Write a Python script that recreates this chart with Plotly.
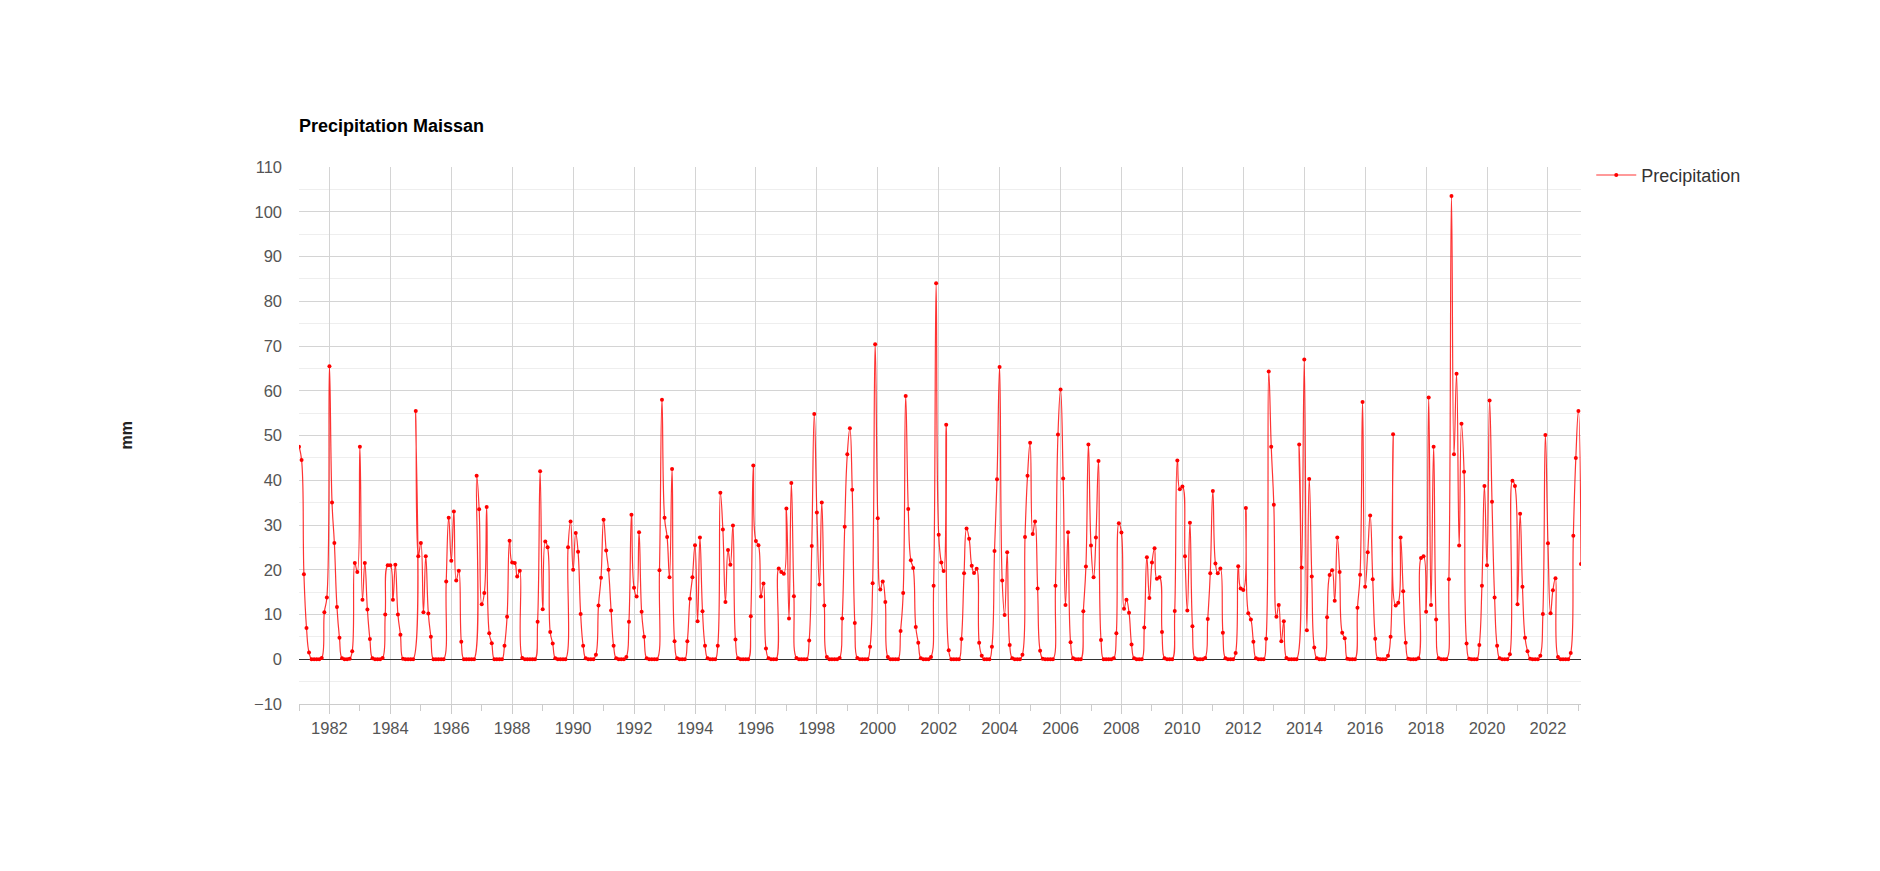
import pandas as pd
import plotly.graph_objects as go

# Monthly precipitation (mm), Jan..Dec for each year
y1981 = [47.5, 44.5, 19, 7, 1.5, 0, 0, 0, 0, 0.3, 10.5, 13.8]
y1982 = [65.5, 35, 26, 11.7, 4.8, 0.2, 0, 0, 0.1, 1.8, 21.5, 19.5]
y1983 = [47.5, 13.3, 21.5, 11.1, 4.5, 0.2, 0, 0, 0, 0.3, 10, 21]
y1984 = [21, 13.3, 21.1, 10, 5.5, 0.1, 0, 0, 0, 0, 55.5, 23]
y1985 = [26, 10.5, 23, 10.2, 5, 0, 0, 0, 0, 0, 17.4, 31.6]
y1986 = [22, 33, 17.6, 19.8, 3.9, 0, 0, 0, 0, 0, 41, 33.5]
y1987 = [12.3, 14.8, 34, 5.8, 3.6, 0, 0, 0, 0, 3, 9.5, 26.5]
y1988 = [21.6, 21.5, 18.5, 19.8, 0.3, 0, 0, 0, 0, 0, 8.4, 42]
y1989 = [11.2, 26.3, 25, 6.1, 3.5, 0.2, 0, 0, 0, 0, 25, 30.8]
y1990 = [20, 28.2, 24, 10.1, 3, 0.2, 0, 0, 0, 1, 12, 18.2]
y1991 = [31.2, 24.3, 20, 10.9, 3, 0.2, 0, 0, 0, 0.5, 8.4, 32.3]
y1992 = [16, 14, 28.4, 10.6, 5, 0.2, 0, 0, 0, 0, 19.9, 58]
y1993 = [31.6, 27.3, 18.3, 42.5, 4, 0.2, 0, 0, 0, 4, 13.5, 18.3]
y1994 = [25.5, 8.5, 27.2, 10.7, 3, 0.2, 0, 0, 0, 3, 37.2, 29]
y1995 = [12.8, 24.4, 21.1, 29.9, 4.4, 0.2, 0, 0, 0, 0, 9.6, 43.3]
y1996 = [26.4, 25.5, 14, 16.9, 2.4, 0.2, 0, 0, 0, 20.3, 19.5, 19.1]
y1997 = [33.7, 9.1, 39.4, 14.1, 0.3, 0, 0, 0, 0, 4.2, 25.3, 54.8]
y1998 = [32.8, 16.7, 35, 12, 0.5, 0, 0, 0, 0, 0.3, 9.1, 29.6]
y1999 = [45.8, 51.6, 37.9, 8.1, 0.3, 0, 0, 0, 0, 2.8, 17, 70.4]
y2000 = [31.5, 15.6, 17.4, 12.8, 0.5, 0, 0, 0, 0, 6.3, 14.8, 58.8]
y2001 = [33.6, 22.1, 20.4, 7.2, 3.7, 0.2, 0, 0, 0, 0.5, 16.4, 84]
y2002 = [27.8, 21.6, 19.7, 52.4, 2, 0, 0, 0, 0, 4.5, 19.2, 29.2]
y2003 = [26.9, 20.9, 19.3, 20.2, 3.7, 0.8, 0, 0, 0, 2.8, 24.2, 40.2]
y2004 = [65.3, 17.6, 9.9, 23.9, 3.2, 0.2, 0, 0, 0, 1, 27.3, 41]
y2005 = [48.4, 28, 30.8, 15.8, 1.9, 0.1, 0, 0, 0, 0, 16.4, 50.2]
y2006 = [60.3, 40.4, 12.1, 28.4, 3.8, 0.2, 0, 0, 0, 10.7, 20.7, 48]
y2007 = [25.4, 18.3, 27.2, 44.3, 4.3, 0, 0, 0, 0, 0.2, 5.8, 30.4]
y2008 = [28.3, 11.3, 13.3, 10.4, 3.3, 0.2, 0, 0, 0, 7.1, 22.8, 13.7]
y2009 = [21.6, 24.8, 18, 18.3, 6.1, 0.2, 0, 0, 0, 10.8, 44.4, 38]
y2010 = [38.6, 23, 10.9, 30.5, 7.4, 0.2, 0, 0, 0, 0.3, 9, 19.2]
y2011 = [37.6, 21.4, 19.2, 20.3, 5.9, 0.2, 0, 0, 0, 1.4, 20.8, 15.8]
y2012 = [15.5, 33.8, 10.3, 8.9, 3.9, 0.2, 0, 0, 0, 4.6, 64.3, 47.5]
y2013 = [34.5, 9.5, 12.1, 4, 8.5, 0.3, 0, 0, 0, 0, 48, 20.5]
y2014 = [67, 6.5, 40.3, 18.5, 2.6, 0.2, 0, 0, 0, 9.4, 18.8, 19.9]
y2015 = [13.1, 27.2, 19.5, 5.9, 4.7, 0.1, 0, 0, 0, 11.5, 18.9, 57.5]
y2016 = [16.2, 23.9, 32.1, 17.9, 4.6, 0.1, 0, 0, 0, 0.8, 5, 50.3]
y2017 = [12, 12.6, 27.2, 15.2, 3.7, 0.1, 0, 0, 0, 0.2, 22.6, 23]
y2018 = [10.6, 58.5, 12.1, 47.5, 8.9, 0.2, 0, 0, 0, 17.9, 103.5, 45.8]
y2019 = [63.8, 25.4, 52.6, 41.9, 3.5, 0.1, 0, 0, 0, 3.2, 16.4, 38.7]
y2020 = [21, 57.8, 35.2, 13.8, 3, 0.2, 0, 0, 0, 1.1, 39.9, 38.7]
y2021 = [12.3, 32.5, 16.2, 4.8, 1.8, 0.1, 0, 0, 0, 0.8, 10.1, 50.1]
y2022 = [25.9, 10.3, 15.4, 18.1, 0.5, 0, 0, 0, 0, 1.4, 27.6, 45]
y2023 = [55.5, 21.3]

years = [y1981, y1982, y1983, y1984, y1985, y1986, y1987, y1988, y1989, y1990,
         y1991, y1992, y1993, y1994, y1995, y1996, y1997, y1998, y1999, y2000,
         y2001, y2002, y2003, y2004, y2005, y2006, y2007, y2008, y2009, y2010,
         y2011, y2012, y2013, y2014, y2015, y2016, y2017, y2018, y2019, y2020,
         y2021, y2022, y2023]
values = [v for yr in years for v in yr]
dates = pd.date_range(start="1981-01-01", periods=len(values), freq="MS")

FONT = "Liberation Sans, Arial, Helvetica, sans-serif"

fig = go.Figure()
fig.add_trace(go.Scatter(
    x=dates, y=values, name="Precipitation", mode="lines+markers",
    line=dict(color="rgba(255,0,0,0.8)", width=1.2, shape="spline", smoothing=1.3),
    marker=dict(color="red", size=4),
))

W, H = 1880, 871
L, R, T, B = 299, 299, 167, 167
fig.update_layout(
    width=W, height=H,
    margin=dict(l=L, r=R, t=T, b=B),
    paper_bgcolor="white", plot_bgcolor="white",
    font=dict(family=FONT, size=16, color="#555555"),
    title=dict(text="<b>Precipitation Maissan</b>", x=0, xref="paper", xanchor="left",
               y=1 - 126 / H, yref="container", yanchor="middle",
               font=dict(family=FONT, size=18, color="#000000")),
    showlegend=True,
    legend=dict(x=1.008, y=1.019, xanchor="left", yanchor="top",
                itemwidth=40,
                font=dict(family=FONT, size=18, color="#333333"),
                bgcolor="rgba(0,0,0,0)"),
    xaxis=dict(
        type="date", range=["1981-01-01", "2023-02-01"],
        tick0="1982-01-01", dtick="M24", tickformat="%Y",
        showgrid=True, gridcolor="#d4d4d4", gridwidth=1,
        ticks="outside", ticklen=9, tickcolor="#cccccc",
        showline=True, linecolor="#cccccc", linewidth=1,
        minor=dict(dtick="M12", tick0="1981-01-01", ticks="outside", ticklen=6,
                   tickcolor="#cccccc", showgrid=False),
        tickfont=dict(size=16.5, color="#555555"),
        zeroline=False,
    ),
    yaxis=dict(
        range=[-10, 110], tick0=0, dtick=10,
        showgrid=True, gridcolor="#d4d4d4", gridwidth=1,
        minor=dict(dtick=5, showgrid=True, gridcolor="#eeeeee"),
        zeroline=True, zerolinecolor="#333333", zerolinewidth=1,
        ticks="", ticklabelstandoff=16,
        tickfont=dict(size=16.5, color="#555555"),
        showline=False,
    ),
    annotations=[dict(text="<b>mm</b>", xref="paper", yref="paper",
                      x=(126 - L) / (W - L - R), y=0.5, xanchor="center", yanchor="middle",
                      textangle=-90, showarrow=False,
                      font=dict(family=FONT, size=16, color="#222222"))],
)

fig.write_html("out.html", include_plotlyjs=True, config={"displayModeBar": False},
               post_script="document.body.style.margin='0';document.body.style.overflow='hidden';")
